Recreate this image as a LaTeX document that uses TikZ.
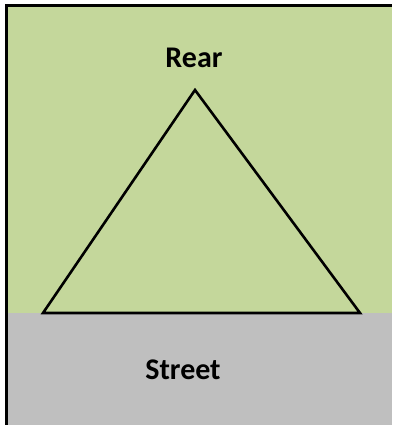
\documentclass[tikz,border=0pt]{standalone}
\usepackage{fontspec}
\setmainfont{Carlito}
\definecolor{lawn}{HTML}{C4D79B}
\definecolor{street}{HTML}{BFBFBF}
\tikzset{lbl/.style={font=\bfseries\fontsize{30}{36}\selectfont, inner sep=0pt}}
\begin{document}
\begin{tikzpicture}[x=1pt,y=-1pt]
\useasboundingbox (0,0) rectangle (392,425);
\fill[white] (0,0) rectangle (392,425);
\fill[lawn] (6,6) rectangle (392,313);
\fill[street] (6,313) rectangle (392,425);
\draw[line width=3pt] (6,425) -- (6,6) -- (392,6);
\coordinate (apex) at (195,90);
\coordinate (bl) at (43,313);
\coordinate (br) at (360,313);
\draw[line width=2.6pt, line join=miter] (bl) -- (apex) -- (br) -- cycle;
\node[lbl] (rear) at (194,58) {Rear};
\node[lbl] (street) at (183,370) {Street};
\end{tikzpicture}
\end{document}
